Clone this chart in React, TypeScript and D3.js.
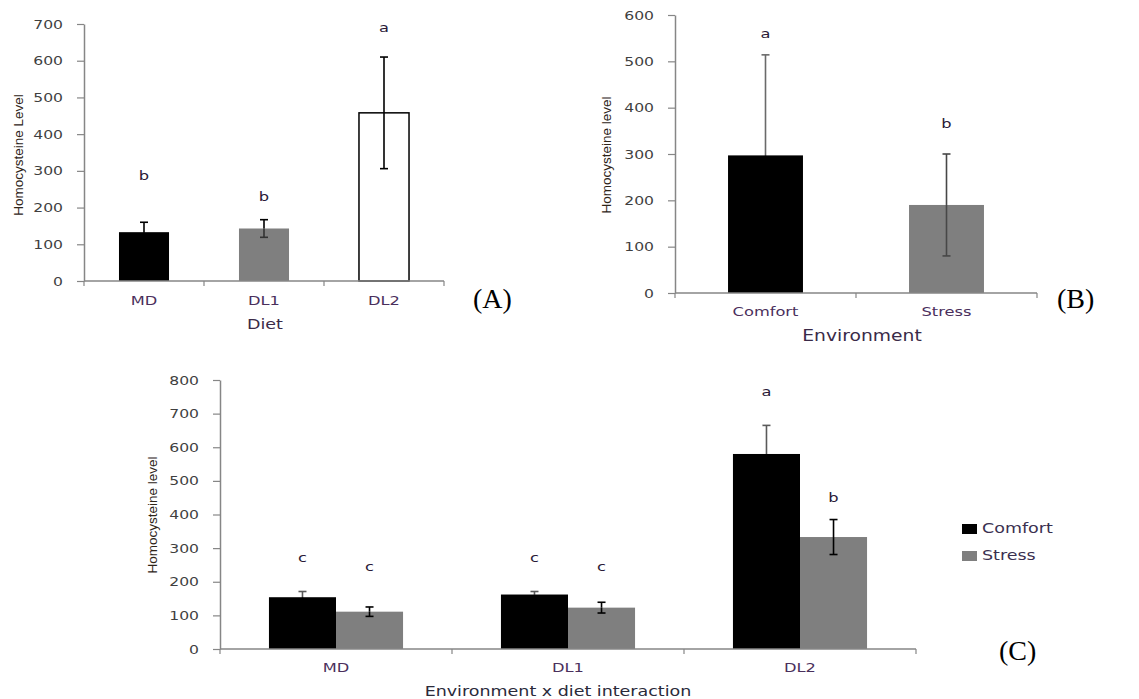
import React, { useRef, useEffect } from 'react';
import * as d3 from 'd3';

// Panel A: diet effect
const dietCats = ['MD', 'DL1', 'DL2'];
const dietMeans = [133, 143, 458];
const dietErr = [27, 24, 152];
const dietLetters = ['b', 'b', 'a'];
const dietLetterVals = [285, 230, 690];
const dietFills = ['#000000', '#7f7f7f', '#ffffff'];

// Panel B: environment effect
const envCats = ['Comfort', 'Stress'];
const envMeans = [297, 190];
const envErr = [217, 110];
const envLetters = ['a', 'b'];
const envLetterVals = [560, 365];

// Panel C: interaction
const interCats = ['MD', 'DL1', 'DL2'];
const comfortMeans = [154, 162, 580];
const comfortErr = [17, 9, 85];
const stressMeans = [111, 123, 333];
const stressErr = [14, 16, 52];
const comfortLetters = ['c', 'c', 'a'];
const stressLetters = ['c', 'c', 'b'];
const comfortLetterVals = [270, 270, 765];
const stressLetterVals = [245, 245, 450];

const SX = 1.25;
const FONT = '"DejaVu Sans", Verdana, sans-serif';
const AXIS = '#868686';
const TICKTXT = '#3f3f3f';
const CATTXT = '#4a2f5c';

const App = () => {
  const svgRef = useRef<SVGSVGElement>(null);

  useEffect(() => {
    const svg = d3.select(svgRef.current);
    svg.selectAll('*').remove();

    const stretchText = (g, x, y, str, size, color, anchor = 'middle') =>
      g.append('text')
        .attr('transform', `translate(${x},${y}) scale(${SX},1)`)
        .attr('text-anchor', anchor)
        .attr('font-family', FONT)
        .attr('font-size', size)
        .attr('fill', color)
        .text(str);

    const yAxis = (y, x0) => {
      const g = svg.append('g').attr('transform', `translate(${x0},0)`);
      g.call(d3.axisLeft(y).ticks(y.domain()[1] / 100).tickSize(7).tickSizeOuter(0));
      g.select('.domain').attr('stroke', AXIS).attr('stroke-width', 1.5);
      g.selectAll('.tick line').attr('stroke', AXIS).attr('stroke-width', 1.2);
      g.selectAll('.tick text')
        .attr('x', -21 / SX)
        .attr('transform', `scale(${SX},1)`)
        .attr('font-family', FONT)
        .attr('font-size', 12.5)
        .attr('fill', TICKTXT);
      return g;
    };

    const xBase = (x, y0) => {
      const [a, b] = x.range();
      svg.append('line').attr('x1', a).attr('x2', b).attr('y1', y0).attr('y2', y0)
        .attr('stroke', AXIS).attr('stroke-width', 1.5);
      const bounds = [a, ...x.domain().map(d => x(d) - x.step() * x.paddingInner() / 2 + x.step())];
      bounds[bounds.length - 1] = b;
      svg.append('g').selectAll('line').data(bounds).join('line')
        .attr('x1', d => d).attr('x2', d => d).attr('y1', y0).attr('y2', y0 + 5)
        .attr('stroke', AXIS).attr('stroke-width', 1.2);
    };

    // upper half in `color`, lower half in `lowColor` (hidden on dark bars)
    const errBar = (cx, y, mean, err, color, lowColor, capW) => {
      const up = svg.append('g').attr('stroke', color).attr('stroke-width', 1.6);
      up.append('line').attr('x1', cx).attr('x2', cx).attr('y1', y(mean + err)).attr('y2', y(mean));
      up.append('line').attr('x1', cx - capW).attr('x2', cx + capW).attr('y1', y(mean + err)).attr('y2', y(mean + err));
      const low = svg.append('g').attr('stroke', lowColor).attr('stroke-width', 1.6);
      low.append('line').attr('x1', cx).attr('x2', cx).attr('y1', y(mean)).attr('y2', y(mean - err));
      low.append('line').attr('x1', cx - capW).attr('x2', cx + capW).attr('y1', y(mean - err)).attr('y2', y(mean - err));
    };

    const yTitle = (x, y, str) =>
      svg.append('text')
        .attr('transform', `translate(${x},${y}) rotate(-90)`)
        .attr('text-anchor', 'middle')
        .attr('font-family', '"Liberation Sans", Arial, sans-serif')
        .attr('font-size', 13.5)
        .attr('fill', '#2e2418')
        .text(str);

    const panelTag = (x, y, str) =>
      svg.append('text')
        .attr('x', x).attr('y', y)
        .attr('font-family', '"Liberation Serif", "Times New Roman", serif')
        .attr('font-size', 28)
        .attr('fill', '#000')
        .text(str);

    // ---------- Panel A ----------
    const yA = d3.scaleLinear().domain([0, 700]).range([281, 24]);
    const xA = d3.scaleBand().domain(dietCats).range([84, 444]).paddingInner(0.583).paddingOuter(0.2915);
    svg.append('g').selectAll('rect').data(dietCats).join('rect')
      .attr('x', d => xA(d))
      .attr('y', (d, i) => yA(dietMeans[i]))
      .attr('width', xA.bandwidth())
      .attr('height', (d, i) => yA(0) - yA(dietMeans[i]))
      .attr('fill', (d, i) => dietFills[i])
      .attr('stroke', (d, i) => (i === 2 ? '#000' : 'none'))
      .attr('stroke-width', 1.5);
    xBase(xA, 281);
    yAxis(yA, 84);
    dietCats.forEach((c, i) => {
      const cx = xA(c) + xA.bandwidth() / 2;
      errBar(cx, yA, dietMeans[i], dietErr[i], '#000', i === 1 ? '#333' : '#000', 4);
      stretchText(svg, cx, yA(dietLetterVals[i]) + 4, dietLetters[i], 13, '#2a1a38');
      stretchText(svg, cx, 305, c, 13, CATTXT);
    });
    stretchText(svg, 265, 329, 'Diet', 14, '#3a2a48');
    yTitle(23, 155, 'Homocysteine Level');
    panelTag(473, 308, '(A)');

    // ---------- Panel B ----------
    const yB = d3.scaleLinear().domain([0, 600]).range([293, 15]);
    const xB = d3.scaleBand().domain(envCats).range([675, 1037]).paddingInner(0.586).paddingOuter(0.293);
    svg.append('g').selectAll('rect').data(envCats).join('rect')
      .attr('x', d => xB(d))
      .attr('y', (d, i) => yB(envMeans[i]))
      .attr('width', xB.bandwidth())
      .attr('height', (d, i) => yB(0) - yB(envMeans[i]))
      .attr('fill', (d, i) => (i === 0 ? '#000' : '#7f7f7f'));
    xBase(xB, 293);
    yAxis(yB, 675);
    envCats.forEach((c, i) => {
      const cx = xB(c) + xB.bandwidth() / 2;
      if (i === 0) errBar(cx, yB, envMeans[i], envErr[i], '#6a6a6a', '#000', 4);
      else errBar(cx, yB, envMeans[i], envErr[i], '#474747', '#474747', 4);
      stretchText(svg, cx, yB(envLetterVals[i]) + 4, envLetters[i], 13, '#2a1a38');
      stretchText(svg, cx, 316, c, 13, CATTXT);
    });
    stretchText(svg, 862, 341, 'Environment', 15, '#3a2a48');
    yTitle(611, 155, 'Homocysteine level');
    panelTag(1057, 308, '(B)');

    // ---------- Panel C ----------
    const yC = d3.scaleLinear().domain([0, 800]).range([649, 380]);
    const xC = d3.scaleBand().domain(interCats).range([220, 916]).paddingInner(0.422).paddingOuter(0.211);
    const sub = d3.scaleBand().domain(['Comfort', 'Stress']).range([0, xC.bandwidth()]);
    const series = [
      { key: 'Comfort', means: comfortMeans, errs: comfortErr, letters: comfortLetters, lv: comfortLetterVals, fill: '#000', ec: '#5a5a5a', lc: '#000' },
      { key: 'Stress', means: stressMeans, errs: stressErr, letters: stressLetters, lv: stressLetterVals, fill: '#7f7f7f', ec: '#000', lc: '#000' },
    ];
    series.forEach(s => {
      svg.append('g').selectAll('rect').data(interCats).join('rect')
        .attr('x', d => xC(d) + sub(s.key))
        .attr('y', (d, i) => yC(s.means[i]))
        .attr('width', sub.bandwidth())
        .attr('height', (d, i) => yC(0) - yC(s.means[i]))
        .attr('fill', s.fill);
    });
    xBase(xC, 649);
    yAxis(yC, 220);
    series.forEach(s => {
      interCats.forEach((c, i) => {
        const cx = xC(c) + sub(s.key) + sub.bandwidth() / 2;
        errBar(cx, yC, s.means[i], s.errs[i], s.ec, s.lc, 4);
        stretchText(svg, cx, yC(s.lv[i]) + 4, s.letters[i], 13, '#2a1a38');
      });
    });
    interCats.forEach(c => stretchText(svg, xC(c) + xC.bandwidth() / 2, 672, c, 13, CATTXT));
    stretchText(svg, 558, 696, 'Environment x diet interaction', 14, '#2a2a3a');
    yTitle(157, 515, 'Homocysteine level');
    panelTag(999, 660, '(C)');

    // legend
    series.forEach((s, i) => {
      const ly = 524 + i * 27;
      svg.append('rect').attr('x', 962).attr('y', ly).attr('width', 15).attr('height', 10).attr('fill', s.fill);
      stretchText(svg, 982, ly + 8.5, s.key, 14, '#3a3050', 'start');
    });
  }, []);

  return (
    <div style={{ position: 'absolute', left: 0, top: 0 }}>
      <svg ref={svgRef} width={1139} height={699} viewBox="0 0 1139 699" style={{ display: 'block', background: '#fff' }} />
    </div>
  );
};

export default App;
